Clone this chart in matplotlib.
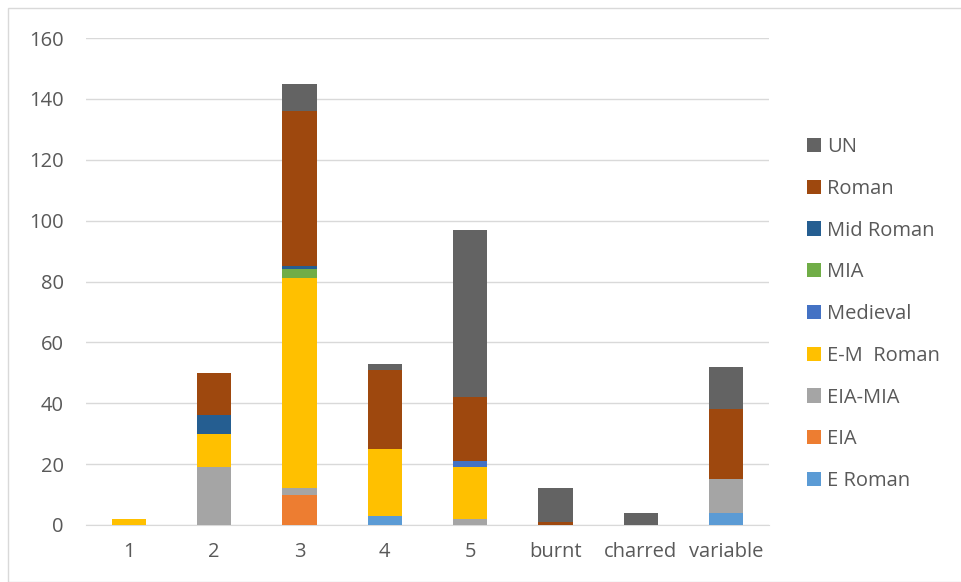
import numpy as np
import matplotlib.pyplot as plt
from matplotlib.patches import Rectangle

plt.rcParams['font.family'] = ['Open Sans', 'DejaVu Sans']

categories = ['1', '2', '3', '4', '5', 'burnt', 'charred', 'variable']
series = ['E Roman', 'EIA', 'EIA-MIA', 'E-M  Roman', 'Medieval', 'MIA', 'Mid Roman', 'Roman', 'UN']
e_roman   = [0, 0, 0, 3, 0, 0, 0, 4]
eia       = [0, 0, 10, 0, 0, 0, 0, 0]
eia_mia   = [0, 19, 2, 0, 2, 0, 0, 11]
em_roman  = [2, 11, 69, 22, 17, 0, 0, 0]
medieval  = [0, 0, 0, 0, 2, 0, 0, 0]
mia       = [0, 0, 3, 0, 0, 0, 0, 0]
mid_roman = [0, 6, 1, 0, 0, 0, 0, 0]
roman     = [0, 14, 51, 26, 21, 1, 0, 23]
un        = [0, 0, 9, 2, 55, 11, 4, 14]
colors = ['#5B9BD5', '#ED7D31', '#A5A5A5', '#FFC000', '#4472C4',
          '#70AD47', '#255E91', '#9E480E', '#636363']

values = [e_roman, eia, eia_mia, em_roman, medieval, mia, mid_roman, roman, un]

fig = plt.figure(figsize=(9.62, 5.82), dpi=100)
ax = fig.add_axes([86/962, 1 - 525/582, 683/962, 487/582])

x = np.arange(len(categories))
bottom = np.zeros(len(categories))
bars = []
for name, vals, c in zip(series, values, colors):
    b = ax.bar(x, vals, 0.4, bottom=bottom, color=c, label=name, zorder=3)
    bars.append(b)
    bottom += np.array(vals)

ax.set_xlim(-0.5, len(categories) - 0.5)
ax.set_ylim(0, 160)
ax.set_yticks(range(0, 161, 20))
ax.set_xticks(x)
ax.set_xticklabels(categories)
ax.grid(axis='y', color='#D9D9D9', linewidth=1, zorder=0)
for s in ['top', 'right', 'left']:
    ax.spines[s].set_visible(False)
ax.spines['bottom'].set_color('#D9D9D9')
ax.tick_params(length=0, labelsize=14.5, colors='#595959')
ax.tick_params(axis='y', pad=16)
ax.tick_params(axis='x', pad=12)

handles = bars[::-1]
labels = series[::-1]
fig.legend(handles, labels, loc='upper left', bbox_to_anchor=(799/962, 1 - 129/582),
           frameon=False, fontsize=14.5, labelcolor='#595959',
           handlelength=0.7, handleheight=0.7, handletextpad=0.3,
           labelspacing=1.08, borderaxespad=0)

fig.patches.append(Rectangle((8/962, 0), 1, 1 - 8/582, transform=fig.transFigure,
                             fill=False, edgecolor='#D9D9D9', linewidth=1))

fig.savefig('out.png', dpi=100)
